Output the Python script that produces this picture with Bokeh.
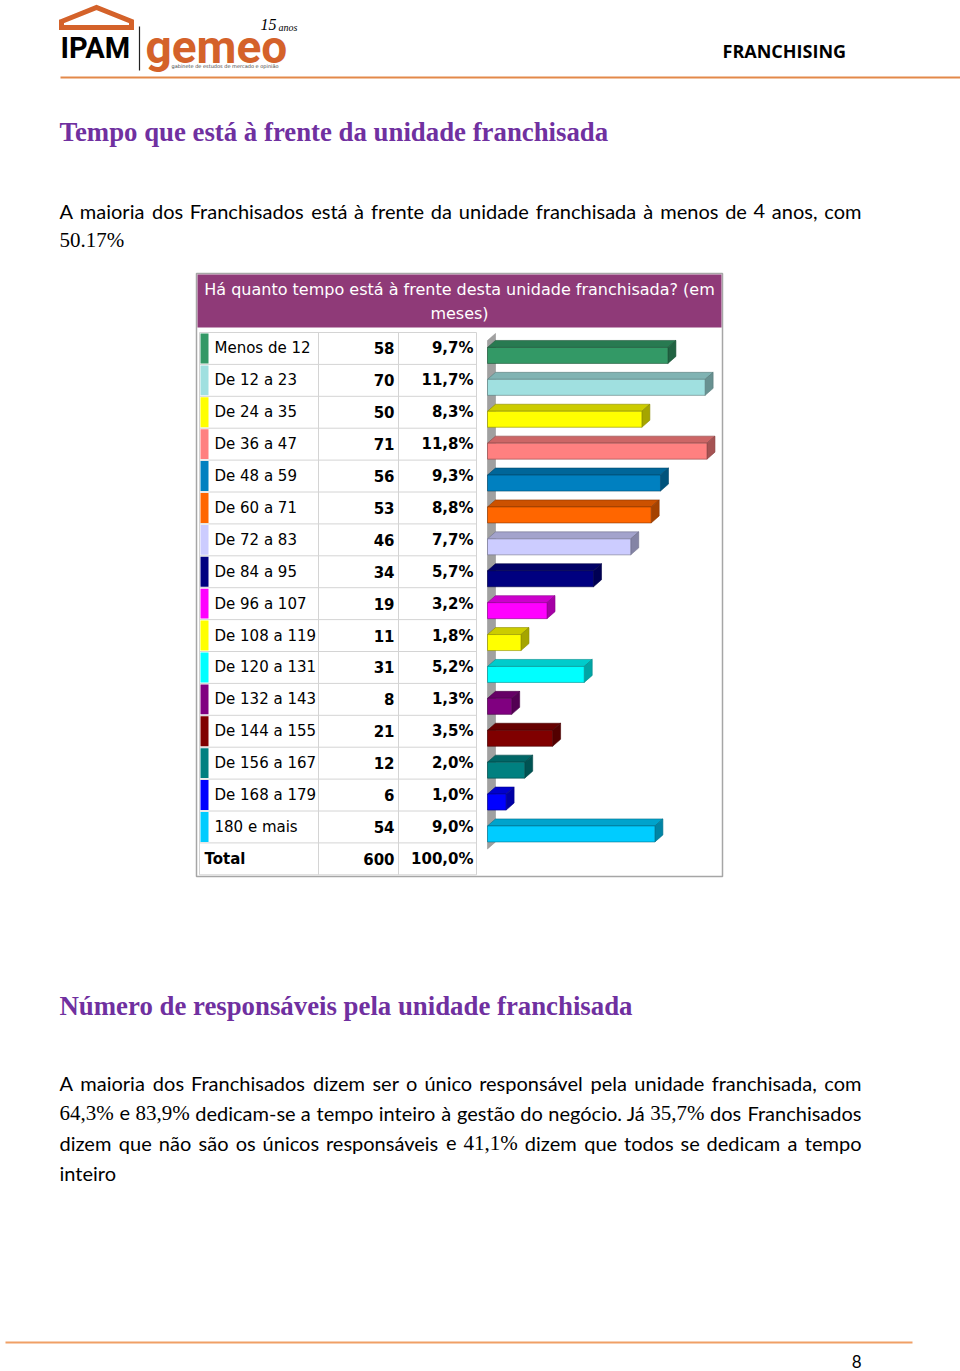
from bokeh.plotting import figure
from bokeh.models import Range1d, ColumnDataSource
from bokeh.core.properties import value
from bokeh.embed import file_html
from bokeh.resources import INLINE

# ---------------- data ----------------
categories = ["Menos de 12", "De 12 a 23", "De 24 a 35", "De 36 a 47", "De 48 a 59",
              "De 60 a 71", "De 72 a 83", "De 84 a 95", "De 96 a 107", "De 108 a 119",
              "De 120 a 131", "De 132 a 143", "De 144 a 155", "De 156 a 167",
              "De 168 a 179", "180 e mais"]
counts = [58, 70, 50, 71, 56, 53, 46, 34, 19, 11, 31, 8, 21, 12, 6, 54]
percents = [9.7, 11.7, 8.3, 11.8, 9.3, 8.8, 7.7, 5.7, 3.2, 1.8, 5.2, 1.3, 3.5, 2.0, 1.0, 9.0]
total_label = "Total"
total_count = 600
total_percent = 100.0
bar_colors = ["#339966", "#A0E0E0", "#FFFF00", "#FF8080", "#0080C0", "#FF6600",
              "#CCCCFF", "#000080", "#FF00FF", "#FFFF00", "#00FFFF", "#800080",
              "#800000", "#008080", "#0000FF", "#00CCFF"]

chart_title = ["Há quanto tempo está à frente desta unidade franchisada? (em", "meses)"]
heading1 = "Tempo que está à frente da unidade franchisada"
heading2 = "Número de responsáveis pela unidade franchisada"
para1 = ["A maioria dos Franchisados está à frente da unidade franchisada à menos de 4 anos, com",
         "50.17%"]
para2 = ["A maioria dos Franchisados dizem ser o único responsável pela unidade franchisada, com",
         "64,3% e 83,9% dedicam-se a tempo inteiro à gestão do negócio. Já 35,7% dos Franchisados",
         "dizem que não são os únicos responsáveis e 41,1% dizem que todos se dedicam a tempo",
         "inteiro"]
header_right = "FRANCHISING"
page_number = "8"

# ---------------- layout ----------------
W, H = 960, 1371
BAR_X0 = 487
PX_PER_PCT = 18.6
DEPTH_X, DEPTH_Y = 8, 7
ROW_TOP, ROW_H = 332, 31.9
ORANGE = "#D4622A"
PURPLE_T = "#7030A0"

p = figure(width=W, height=H, x_range=Range1d(0, W), y_range=Range1d(H, 0),
           output_backend="svg", toolbar_location=None, min_border=0,
           x_axis_location=None, y_axis_location=None)
p.grid.visible = False
p.outline_line_color = None
p.background_fill_color = "white"
p.border_fill_color = "white"
p.extra_x_ranges = {"pct": Range1d(-BAR_X0 / PX_PER_PCT, (W - BAR_X0) / PX_PER_PCT)}


def txt(x, y, s, font="Lato", size=20, color="#000000", style="normal",
        align="left", baseline="middle"):
    p.text(x=[x], y=[y], text=[s], text_font=value(font), text_font_size=f"{size}px",
           text_color=color, text_font_style=style, text_align=align,
           text_baseline=baseline)


LATO = dict(a=.51, b=.56, c=.46, d=.56, e=.52, f=.33, g=.51, h=.56, i=.24, j=.24, k=.5,
            l=.24, m=.84, n=.56, o=.56, p=.56, q=.56, r=.37, s=.43, t=.35, u=.56, v=.51,
            w=.78, x=.5, y=.51, z=.45, A=.68, F=.55, J=.38, I=.29)
ACC = {"á": "a", "à": "a", "ã": "a", "â": "a", "é": "e", "ê": "e", "í": "i",
       "ó": "o", "õ": "o", "ô": "o", "ú": "u", "ç": "c"}


def est(word, serif, size):
    w = 0.0
    for ch in word:
        c = ACC.get(ch, ch)
        if serif:
            if c.isdigit():
                w += .5
            elif c == "%":
                w += .833
            else:
                w += .25
        else:
            if c in LATO:
                w += LATO[c]
            elif c.isdigit():
                w += .58
            elif c in ",.:":
                w += .23
            elif c == "-":
                w += .35
            elif c == "%":
                w += .78
            else:
                w += .66
    return w * size


def body_line(line, y, justify, x0=59, x1=861, size=20):
    words = line.split(" ")
    info = []
    for w in words:
        serif = "%" in w
        s = size + 1 if serif else size
        info.append((w, serif, s, est(w, serif, s)))
    if justify and len(words) > 1:
        gap = (x1 - x0 - sum(i[3] for i in info)) / (len(words) - 1)
    else:
        gap = 0.26 * size
    x = x0
    for k, (w, serif, s, wd) in enumerate(info):
        font = "Liberation Serif" if serif else "Lato"
        if justify and k == len(info) - 1 and len(info) > 1:
            txt(x1, y, w, font=font, size=s, align="right")
        else:
            txt(x, y, w, font=font, size=s)
        x += wd + gap


# ---------------- page header ----------------
p.patch(x=[61, 96, 131, 131, 61], y=[21, 7, 21, 27, 27], fill_color="white",
        line_color=ORANGE, line_width=5, line_join="miter")
txt(60, 47, "IPAM", font="Roboto", size=29, style="bold", baseline="alphabetic")
p.segment(x0=[139], y0=[26], x1=[139], y1=[70], line_color="#222222", line_width=1.2)
txt(145, 46, "gemeo", font="Roboto", size=46, color=ORANGE, style="bold",
    baseline="alphabetic")
txt(260, 24, "15", font="Liberation Serif", size=16, style="italic")
txt(278, 27, "anos", font="Liberation Serif", size=10, style="italic")
txt(171, 65, "gabinete de estudos de mercado e opinião", font="DejaVu Sans", size=5,
    color="#444444")
p.segment(x0=[60], y0=[77], x1=[960], y1=[77], line_color="#E3894A", line_width=2)
txt(722, 50, header_right, font="Open Sans", size=18, style="bold")

# ---------------- headings & paragraphs ----------------
txt(59, 131, heading1, font="Liberation Serif", size=26.8, color=PURPLE_T, style="bold")
body_line(para1[0], 210, True)
body_line(para1[1], 239, False)

txt(59, 1005, heading2, font="Liberation Serif", size=26.8, color=PURPLE_T, style="bold")
for k, line in enumerate(para2):
    body_line(line, 1082 + 30 * k, k < len(para2) - 1)

# ---------------- chart box ----------------
p.quad(left=[196], right=[722], top=[273], bottom=[876], fill_color="white",
       line_color="#A6A6A6", line_width=1.5)
p.quad(left=[197], right=[721], top=[274], bottom=[327], fill_color="#8F3A78",
       line_color=None)
for k, line in enumerate(chart_title):
    txt(459, 289 + 24 * k, line, font="DejaVu Sans", size=16, color="white",
        align="center")

# table
n_rows = len(categories) + 1
row_bounds = [ROW_TOP + ROW_H * i for i in range(n_rows + 1)]
p.segment(x0=[199] * len(row_bounds), x1=[476] * len(row_bounds), y0=row_bounds,
          y1=row_bounds, line_color="#D4D4D4", line_width=1)
vx = [199, 318, 398, 476]
p.segment(x0=vx, x1=vx, y0=[row_bounds[0]] * 4, y1=[row_bounds[-1]] * 4,
          line_color="#D4D4D4", line_width=1)

centers = [ROW_TOP + ROW_H * (i + 0.5) for i in range(len(categories))]
strip = ColumnDataSource(dict(top=[c - ROW_H / 2 + 1 for c in centers],
                              bottom=[c + ROW_H / 2 - 1 for c in centers],
                              color=bar_colors))
p.quad(left=200, right=208, top="top", bottom="bottom", fill_color="color",
       line_color=None, source=strip)


def fmt_pct(v):
    return f"{v:.1f}".replace(".", ",") + "%"


tab = ColumnDataSource(dict(y=centers, cat=categories, cnt=[str(c) for c in counts],
                            pct=[fmt_pct(v) for v in percents]))
p.text(x=214, y="y", text="cat", source=tab, text_font=value("DejaVu Sans"),
       text_font_size="15px", text_baseline="middle", text_color="#000000")
p.text(x=394, y="y", text="cnt", source=tab, text_font=value("DejaVu Sans"),
       text_font_size="15px", text_baseline="middle", text_align="right",
       text_font_style="bold", text_color="#000000")
p.text(x=473, y="y", text="pct", source=tab, text_font=value("DejaVu Sans"),
       text_font_size="15px", text_baseline="middle", text_align="right",
       text_font_style="bold", text_color="#000000")
ty = ROW_TOP + ROW_H * (len(categories) + 0.5)
txt(204, ty, total_label, font="DejaVu Sans", size=15, style="bold")
txt(394, ty, str(total_count), font="DejaVu Sans", size=15, style="bold", align="right")
txt(473, ty, fmt_pct(total_percent), font="DejaVu Sans", size=15, style="bold",
    align="right")

# ---------------- 3D bars ----------------
d = DEPTH_X / PX_PER_PCT
wall_top = centers[0] - 1 - DEPTH_Y
wall_bot = centers[-1] + 15 + DEPTH_Y
p.patch(x=[0, d, d, 0], y=[wall_top, wall_top - DEPTH_Y, wall_bot - DEPTH_Y, wall_bot],
        fill_color="#A0A0A0", line_color="#8A8A8A", line_width=0.5, x_range_name="pct")


def shade(hexcol, f):
    r, g, b = int(hexcol[1:3], 16), int(hexcol[3:5], 16), int(hexcol[5:7], 16)
    return "#%02x%02x%02x" % (int(r * f), int(g * f), int(b * f))


for i, (pct, col) in enumerate(zip(percents, bar_colors)):
    yt = centers[i] - 1
    yb = centers[i] + 15
    line = shade(col, 0.55)
    p.patch(x=[0, pct, pct + d, d], y=[yt, yt, yt - DEPTH_Y, yt - DEPTH_Y],
            fill_color=shade(col, 0.8), line_color=line, line_width=0.6,
            x_range_name="pct")
    p.patch(x=[pct, pct + d, pct + d, pct], y=[yt, yt - DEPTH_Y, yb - DEPTH_Y, yb],
            fill_color=shade(col, 0.65), line_color=line, line_width=0.6,
            x_range_name="pct")
    p.quad(left=[0], right=[pct], top=[yt], bottom=[yb], fill_color=col,
           line_color=line, line_width=0.6, x_range_name="pct")

# ---------------- footer ----------------
p.segment(x0=[5], y0=[1342], x1=[912], y1=[1342], line_color="#F0A066", line_width=2)
txt(861, 1361, page_number, font="Lato", size=17, align="right")

open("out.html", "w").write(file_html(p, INLINE))
